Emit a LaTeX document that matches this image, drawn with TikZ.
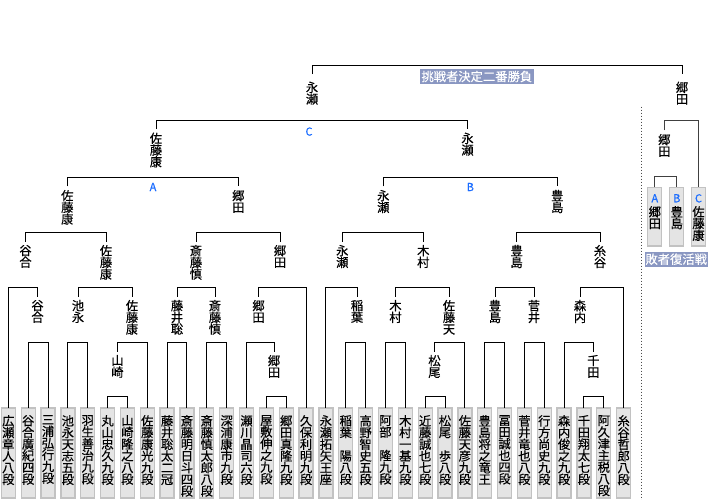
\documentclass[tikz,border=0pt]{standalone}
\usepackage{fontspec}
\setmainfont{Noto Sans CJK JP}[FakeBold=0.4]
\definecolor{boxfill}{HTML}{E4E4E4}
\definecolor{boxline}{HTML}{C2C2C2}
\definecolor{banner}{HTML}{8A97C2}
\definecolor{abc}{HTML}{1A6CFF}
\definecolor{lgray}{HTML}{404040}
\tikzset{
  conn/.style={draw=black, line width=1pt},
  lconn/.style={draw=lgray, line width=1pt},
  pbox/.style={draw=boxline, fill=boxfill, line width=1.3pt, minimum width=14pt, minimum height=90pt, inner sep=0pt, outer sep=0pt, anchor=north},
  ptext/.style={font=\fontsize{12.3}{11.7}\selectfont, align=center, inner sep=0pt, anchor=north},
  lbl/.style={font=\fontsize{12.3}{11.7}\selectfont, align=center, inner sep=0pt, outer xsep=0pt, outer ysep=3.5pt, anchor=north},
  toplbl/.style={lbl, outer ysep=7.5pt},
  abcl/.style={font=\fontsize{11}{11}\selectfont, text=abc, inner sep=0pt, anchor=center},
  bannerbox/.style={fill=banner, text=white, font=\fontsize{12.3}{12}\selectfont, inner xsep=1.5pt, inner ysep=0pt, minimum height=15pt, anchor=center},
}
\begin{document}
\begin{tikzpicture}[x=1pt,y=-1pt]
\useasboundingbox (0,0) rectangle (710,500);
% level coordinates
\coordinate (Lf) at (0,65.7);
\coordinate (L0) at (0,120.7);
\coordinate (L1) at (0,177.3);
\coordinate (L2) at (0,232.3);
\coordinate (L3) at (0,287.5);
\coordinate (L4) at (0,342.3);
\coordinate (L5) at (0,396.8);
\coordinate (LL) at (0,176.7);
% player boxes
\foreach \n [count=\i from 0] in {
 {広\\瀬\\章\\人\\八\\段},{谷\\合\\廣\\紀\\四\\段},{三\\浦\\弘\\行\\九\\段},{池\\永\\天\\志\\五\\段},
 {羽\\生\\善\\治\\九\\段},{丸\\山\\忠\\久\\九\\段},{山\\崎\\隆\\之\\八\\段},{佐\\藤\\康\\光\\九\\段},
 {藤\\井\\聡\\太\\二\\冠},{斎\\藤\\明\\日\\斗\\四\\段},{斎\\藤\\慎\\太\\郎\\八\\段},{深\\浦\\康\\市\\九\\段},
 {瀬\\川\\晶\\司\\六\\段},{屋\\敷\\伸\\之\\九\\段},{郷\\田\\真\\隆\\九\\段},{久\\保\\利\\明\\九\\段},
 {永\\瀬\\拓\\矢\\王\\座},{稲\\葉\\\phantom{陽}\\陽\\八\\段},{高\\野\\智\\史\\五\\段},{阿\\部\\\phantom{隆}\\隆\\九\\段},
 {木\\村\\一\\基\\九\\段},{近\\藤\\誠\\也\\七\\段},{松\\尾\\\phantom{歩}\\歩\\八\\段},{佐\\藤\\天\\彦\\九\\段},
 {豊\\島\\将\\之\\竜\\王},{冨\\田\\誠\\也\\四\\段},{菅\\井\\竜\\也\\八\\段},{行\\方\\尚\\史\\九\\段},
 {森\\内\\俊\\之\\九\\段},{千\\田\\翔\\太\\七\\段},{阿\\久\\津\\主\\税\\八\\段},{糸\\谷\\哲\\郎\\八\\段}}{
  \node[pbox] (b\i) at ({8.3+19.85*\i},408) {};
  \node[ptext] (bt\i) at ({8.3+19.85*\i},415) {\n};
}
% level-5 winners
\node[lbl] (q1) at (117.4,351.5) {山\\崎};
\node[lbl] (q2) at (274,351.5) {郷\\田};
\node[lbl] (q3) at (434.5,351.5) {松\\尾};
\node[lbl] (q4) at (593.3,351.5) {千\\田};
% level-4 winners
\node[lbl] (r1) at (37.5,296.5) {谷\\合};
\node[lbl] (r2) at (78,296.5) {池\\永};
\node[lbl] (r3) at (132,296.5) {佐\\藤\\康};
\node[lbl] (r4) at (177,296.5) {藤\\井\\聡};
\node[lbl] (r5) at (215,296.5) {斎\\藤\\慎};
\node[lbl] (r6) at (258.5,296.5) {郷\\田};
\node[lbl] (r7) at (357,296.5) {稲\\葉};
\node[lbl] (r8) at (395.5,296.5) {木\\村};
\node[lbl] (r9) at (449,296.5) {佐\\藤\\天};
\node[lbl] (r10) at (495,296.5) {豊\\島};
\node[lbl] (r11) at (534,296.5) {菅\\井};
\node[lbl] (r12) at (580,296.5) {森\\内};
% level-3 winners
\node[lbl] (s1) at (25.5,241.5) {谷\\合};
\node[lbl] (s2) at (106,241.5) {佐\\藤\\康};
\node[lbl] (s3) at (196,241.5) {斎\\藤\\慎};
\node[lbl] (s4) at (280,241.5) {郷\\田};
\node[lbl] (s5) at (342.3,241.5) {永\\瀬};
\node[lbl] (s6) at (423.3,241.5) {木\\村};
\node[lbl] (s7) at (516.7,241.5) {豊\\島};
\node[lbl] (s8) at (600,241.5) {糸\\谷};
% level-2 winners
\node[lbl] (t1) at (67.3,186.5) {佐\\藤\\康};
\node[lbl] (t2) at (238.3,186.5) {郷\\田};
\node[lbl] (t3) at (383.3,186.5) {永\\瀬};
\node[lbl] (t4) at (557.3,186.5) {豊\\島};
% level-1 winners
\node[lbl] (u1) at (156,129.2) {佐\\藤\\康};
\node[lbl] (u2) at (467.5,129.2) {永\\瀬};
% finalists
\node[toplbl] (v1) at (312,74.2) {永\\瀬};
\node[toplbl] (v2) at (682,74.2) {郷\\田};
% block letters
\node[abcl] (la1) at (153,187) {A};
\node[abcl] (lb1) at (470.3,187) {B};
\node[abcl] (lc1) at (309,131.6) {C};
% banners
\node[bannerbox] (ban1) at (476.8,76.5) {挑戦者決定二番勝負};
\node[bannerbox, inner xsep=0.8pt] (ban2) at (676.2,259.2) {敗者復活戦};
% loser bracket
\node[pbox, minimum height=58.7pt] (la) at (654.8,187.3) {};
\node[pbox, minimum height=58.7pt] (lb) at (676.8,187.3) {};
\node[pbox, minimum height=58.7pt] (lc) at (698.5,187.3) {};
\node[abcl, anchor=north] (lat) at (654.8,194) {A};
\node[abcl, anchor=north] (lbt) at (676.8,194) {B};
\node[abcl, anchor=north] (lct) at (698.5,194) {C};
\node[ptext] (lan) at (654.8,206) {郷\\田};
\node[ptext] (lbn) at (676.8,206) {豊\\島};
\node[ptext] (lcn) at (698.5,206) {佐\\藤\\康};
\node[lbl] (w1) at (664.3,130.5) {郷\\田};
% separator
\draw[draw=black!70, line width=0.9pt, dash pattern=on 1pt off 2pt] (641.7,106.7) -- (641.7,500);
% matches
\newcommand\mt[4][conn]{\draw[#1] (#2) |- (#4 -| #3) -- (#3);}
\mt{b5.north}{b6.north}{L5}
\mt{b13.north}{b14.north}{L5}
\mt{b21.north}{b22.north}{L5}
\mt{b29.north}{b30.north}{L5}
\mt{b1.north}{b2.north}{L4}
\mt{b3.north}{b4.north}{L4}
\mt{q1.north}{b7.north}{L4}
\mt{b8.north}{b9.north}{L4}
\mt{b10.north}{b11.north}{L4}
\mt{b12.north}{q2.north}{L4}
\mt{b17.north}{b18.north}{L4}
\mt{b19.north}{b20.north}{L4}
\mt{q3.north}{b23.north}{L4}
\mt{b24.north}{b25.north}{L4}
\mt{b26.north}{b27.north}{L4}
\mt{b28.north}{q4.north}{L4}
\mt{b0.north}{r1.north}{L3}
\mt{r2.north}{r3.north}{L3}
\mt{r4.north}{r5.north}{L3}
\mt{r6.north}{b15.north}{L3}
\mt{b16.north}{r7.north}{L3}
\mt{r8.north}{r9.north}{L3}
\mt{r10.north}{r11.north}{L3}
\mt{r12.north}{b31.north}{L3}
\mt{s1.north}{s2.north}{L2}
\mt{s3.north}{s4.north}{L2}
\mt{s5.north}{s6.north}{L2}
\mt{s7.north}{s8.north}{L2}
\mt{t1.north}{t2.north}{L1}
\mt{t3.north}{t4.north}{L1}
\mt{u1.north}{u2.north}{L0}
\mt{v1.north}{v2.north}{Lf}
\mt[lconn]{la.north}{lb.north}{LL}
\mt[lconn]{w1.north}{lc.north}{L0}
\end{tikzpicture}
\end{document}
